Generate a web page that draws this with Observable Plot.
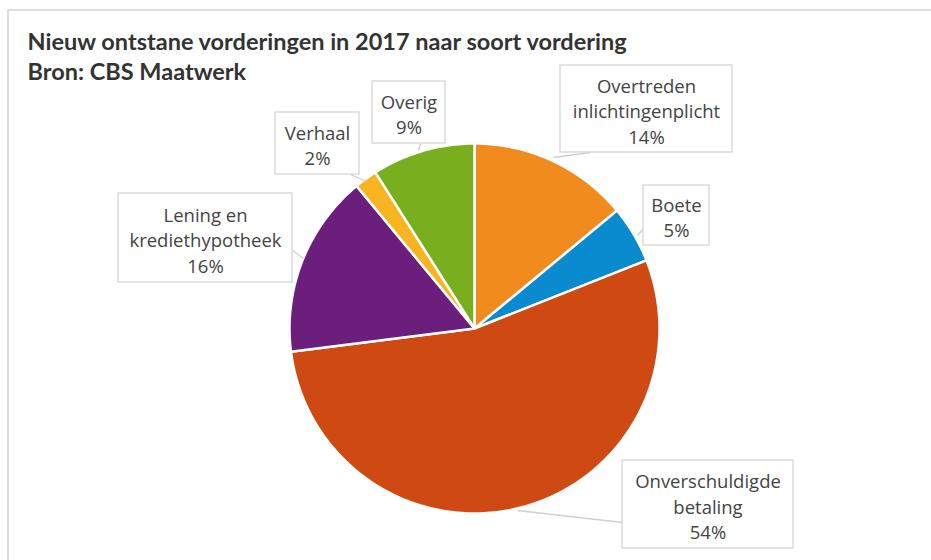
<!DOCTYPE html>
<html>
<head>
<meta charset="utf-8">
<script src="https://cdn.jsdelivr.net/npm/d3@7"></script>
<script src="https://cdn.jsdelivr.net/npm/@observablehq/plot@0.6"></script>
<style>
  html, body { margin: 0; padding: 0; background: #fff; }
  body { width: 931px; height: 560px; overflow: hidden; position: relative; font-family: Lato, "Open Sans", sans-serif; }
  #frame { position: absolute; left: 7px; top: 9px; width: 940px; height: 600px; border-top: 2px solid #dedede; border-left: 2px solid #dedede; }
  #chart { position: absolute; left: 0; top: 0; }
</style>
</head>
<body>
<div id="frame"></div>
<div id="chart"></div>
<script>
// ---- data ----
const title = ["Nieuw ontstane vorderingen in 2017 naar soort vordering", "Bron: CBS Maatwerk"];
const categories = ["Overtreden inlichtingenplicht", "Boete", "Onverschuldigde betaling", "Lening en krediethypotheek", "Verhaal", "Overig"];
const shares = [14, 5, 54, 16, 2, 9];
const labelLines = [
  ["Overtreden", "inlichtingenplicht", "14%"],
  ["Boete", "5%"],
  ["Onverschuldigde", "betaling", "54%"],
  ["Lening en", "krediethypotheek", "16%"],
  ["Verhaal", "2%"],
  ["Overig", "9%"]
];
const colors = ["#F28B1E", "#0A8BD0", "#CF4A13", "#6B1E7B", "#F7B621", "#79AE1F"];

// ---- layout (SVG pixel space) ----
const W = 931, H = 560;
const cx = 474, cy = 328, R = 185;
// label boxes [x1, y1, x2, y2] and leader [from x,y, to x,y]
const boxes = [
  [560, 65, 732, 152],
  [643, 185, 709, 245],
  [622, 460, 793, 548],
  [118, 193, 292, 282],
  [275, 112, 359, 174],
  [372, 81, 445, 143]
];
const leaders = [
  [590, 152, 553, 157],
  [643, 228, 637, 235],
  [622, 522, 517, 510],
  [292, 250, 303, 258],
  [350, 174, 366, 181],
  [420, 143, 418, 150]
];

const arcs = d3.pie().sort(null).value(d => d)(shares);
const pts = [];
arcs.forEach((a, i) => {
  const key = categories[i];
  pts.push({key, x: cx, y: cy});
  const n = Math.max(4, Math.ceil((a.endAngle - a.startAngle) / (Math.PI / 180)));
  for (let k = 0; k <= n; k++) {
    const t = a.startAngle + (a.endAngle - a.startAngle) * k / n;
    pts.push({key, x: cx + R * Math.sin(t), y: cy - R * Math.cos(t)});
  }
});

const boxData = boxes.map((b, i) => ({
  key: categories[i], x1: b[0], x2: b[2], y1: b[1], y2: b[3],
  tx: (b[0] + b[2]) / 2, ty: (b[1] + b[3]) / 2 + 1,
  text: labelLines[i].join("\n")
}));
const leaderData = leaders.map(l => ({x1: l[0], y1: l[1], x2: l[2], y2: l[3]}));

const chart = Plot.plot({
  width: W, height: H,
  margin: 0,
  x: {domain: [0, W], range: [0, W], axis: null},
  y: {domain: [0, H], range: [0, H], axis: null},
  color: {domain: categories, range: colors},
  style: {background: "transparent"},
  marks: [
    Plot.text([title.join("\n")], {frameAnchor: "top-left", textAnchor: "start", lineAnchor: "top", dx: 27, dy: 28, lineHeight: 1.28, fontSize: 23.5, fontWeight: "bold", fill: "#333", fontFamily: "Lato, sans-serif"}),
    Plot.line(pts, {x: "x", y: "y", z: "key", fill: "key", stroke: "white", strokeWidth: 2.5, curve: "linear-closed", strokeLinejoin: "round"}),
    Plot.link(leaderData, {x1: "x1", y1: "y1", x2: "x2", y2: "y2", stroke: "#cfcfcf", strokeWidth: 1.3}),
    Plot.rect(boxData, {x1: "x1", x2: "x2", y1: "y1", y2: "y2", fill: "white", stroke: "#d6d6d6", strokeWidth: 1.3}),
    Plot.text(boxData, {x: "tx", y: "ty", text: "text", lineHeight: 1.38, fontSize: 18.5, fill: "#444", fontFamily: "'Open Sans', Lato, sans-serif"})
  ]
});
document.getElementById("chart").appendChild(chart);
</script>
</body>
</html>
